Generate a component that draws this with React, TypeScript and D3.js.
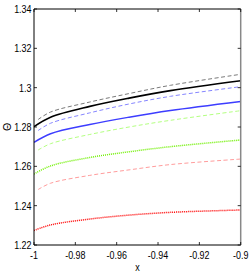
import React from "react";
import * as d3 from "d3";

const xTicks = [-1, -0.98, -0.96, -0.94, -0.92, -0.9];
const xTickLabels = ["-1", "-0.98", "-0.96", "-0.94", "-0.92", "-0.9"];
const yTicks = [1.22, 1.24, 1.26, 1.28, 1.3, 1.32, 1.34];
const yTickLabels = ["1.22", "1.24", "1.26", "1.28", "1.3", "1.32", "1.34"];

const xSolid = [-1, -0.992, -0.973, -0.954, -0.934, -0.9];
const xDash = [-0.998, -0.992, -0.973, -0.954, -0.934, -0.9];

const blackSolid = [1.2802, 1.2850, 1.2905, 1.2947, 1.2985, 1.3035];
const grayDashed = [1.2838, 1.2876, 1.2927, 1.2970, 1.3012, 1.3068];
const blueDashed = [1.2782, 1.2819, 1.2872, 1.2917, 1.2956, 1.3005];
const blueSolid = [1.2722, 1.2766, 1.2813, 1.2850, 1.2884, 1.2930];
const greenDashed = [1.2683, 1.2715, 1.2762, 1.2800, 1.2834, 1.2883];
const greenDotted = [1.2561, 1.2602, 1.2645, 1.2674, 1.2700, 1.2734];
const redDashed = [1.2482, 1.2514, 1.2554, 1.2582, 1.2609, 1.2637];
const redDotted = [1.2274, 1.2302, 1.2332, 1.2352, 1.2366, 1.2378];

const series = [
  { xs: xDash, ys: grayDashed, color: "#7a7a7a", width: 1, dash: "4 2.5" },
  { xs: xSolid, ys: blackSolid, color: "#000000", width: 1.6, dash: "" },
  { xs: xDash, ys: blueDashed, color: "#8585ff", width: 1, dash: "4 2.5" },
  { xs: xSolid, ys: blueSolid, color: "#3d3dff", width: 1.5, dash: "" },
  { xs: xDash, ys: greenDashed, color: "#b3ff80", width: 1, dash: "4 2.5" },
  { xs: xSolid, ys: greenDotted, color: "#70f000", width: 1.5, dash: "1 1" },
  { xs: xDash, ys: redDashed, color: "#ff9c9c", width: 1, dash: "4 2.5" },
  { xs: xSolid, ys: redDotted, color: "#ff0000", width: 1.5, dash: "1 1" },
];

const W = 249;
const H = 277;
const L = 34;
const R = 240.7;
const T = 9;
const B = 245;

export default function App() {
  const x = d3.scaleLinear().domain([-1, -0.9]).range([L, R]);
  const y = d3.scaleLinear().domain([1.22, 1.34]).range([B, T]);
  const line = d3
    .line<[number, number]>()
    .x((d) => x(d[0]))
    .y((d) => y(d[1]))
    .curve(d3.curveCatmullRom.alpha(0.5));
  const font = "'Liberation Sans', Arial, sans-serif";
  const fs = 10.5;
  const sx = 0.85;
  return (
    <svg
      width={W}
      height={H}
      style={{ position: "absolute", left: 0, top: 0, background: "#fff" }}
    >
      <rect x={0} y={0} width={W} height={H} fill="#fff" />
      <defs>
        <clipPath id="plot">
          <rect x={L} y={T} width={R - L} height={B - T} />
        </clipPath>
      </defs>
      <g clipPath="url(#plot)">
        {series.map((s, i) => (
          <path
            key={i}
            d={line(s.xs.map((v, j) => [v, s.ys[j]] as [number, number])) || ""}
            fill="none"
            stroke={s.color}
            strokeWidth={s.width}
            strokeDasharray={s.dash || undefined}
          />
        ))}
      </g>
      <line x1={L} y1={T} x2={R} y2={T} stroke="#000" strokeWidth={1} />
      <line x1={L} y1={B} x2={R} y2={B} stroke="#000" strokeWidth={1} />
      <line x1={L} y1={T} x2={L} y2={B} stroke="#000" strokeWidth={1} />
      <line x1={R} y1={T} x2={R} y2={B} stroke="#888" strokeWidth={1.5} />
      {xTicks.map((t, i) => (
        <g key={"xt" + i}>
          <line x1={x(t)} x2={x(t)} y1={B} y2={B - 3} stroke="#000" strokeWidth={0.8} />
          <line x1={x(t)} x2={x(t)} y1={T} y2={T + 3} stroke="#000" strokeWidth={0.8} />
          <g transform={`translate(${x(t)},${B + 14}) scale(${sx},1)`}>
            <text textAnchor="middle" fontFamily={font} fontSize={fs} fill="#000">
              {xTickLabels[i]}
            </text>
          </g>
        </g>
      ))}
      {yTicks.map((t, i) => (
        <g key={"yt" + i}>
          <line x1={L} x2={L + 3} y1={y(t)} y2={y(t)} stroke="#000" strokeWidth={0.8} />
          <line x1={R} x2={R - 3} y1={y(t)} y2={y(t)} stroke="#000" strokeWidth={0.8} />
          <g transform={`translate(${L - 2.5},${y(t) + 4}) scale(${sx},1)`}>
            <text textAnchor="end" fontFamily={font} fontSize={fs} fill="#000">
              {yTickLabels[i]}
            </text>
          </g>
        </g>
      ))}
      <g transform={`translate(137.5,271) scale(${sx},1)`}>
        <text textAnchor="middle" fontFamily={font} fontSize={fs} fill="#000">
          x
        </text>
      </g>
      <g transform={`translate(11,127) rotate(-90)`}>
        <text textAnchor="middle" fontFamily={font} fontSize={fs} fill="#000">
          Θ
        </text>
      </g>
    </svg>
  );
}
